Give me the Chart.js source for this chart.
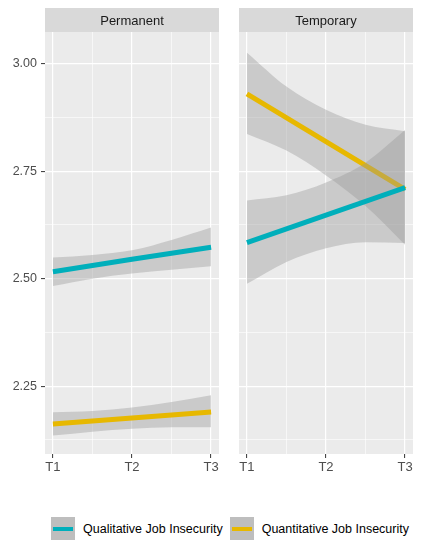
<!DOCTYPE html>
<html>
<head>
<meta charset="utf-8">
<script src="https://cdn.jsdelivr.net/npm/chart.js@4/dist/chart.umd.min.js"></script>
<style>
   body { margin: 0; background: #fff; font-family: "Liberation Sans", Arial, sans-serif; }
   #wrap { position: relative; width: 424px; height: 550px; }
   .panel { position: absolute; top: 0; height: 480px; }
   #left { left: 0; width: 222px; }
   #right { left: 236px; width: 180px; }
   #legend { position: absolute; left: 51px; top: 517px; display: flex; align-items: center; height: 23px; }
   .item { display: flex; align-items: center; margin-right: 7px; }
   .key { width: 24px; height: 23px; background: #BEBEBE; position: relative; margin-right: 8px; }
   .key span { position: absolute; left: 2px; right: 2px; top: 9.5px; height: 4px; }
   .label { font-size: 12.5px; color: #000; }
</style>
</head>
<body>
<div id="wrap">
   <div class="panel" id="left"><canvas id="permanent"></canvas></div>
   <div class="panel" id="right"><canvas id="temporary"></canvas></div>
   <div id="legend"></div>
</div>

<script>
// data

const timeLabels = ['T1', 'T2', 'T3'];
const lineX = [1, 2, 3];
const bandX = [1, 1.5, 2, 2.5, 3];
const xMinorTicks = [1.5, 2.5];
const yMajorTicks = [2.25, 2.5, 2.75, 3.0];
const yMinorTicks = [2.125, 2.375, 2.625, 2.875];

const seriesNames = ['Qualitative Job Insecurity', 'Quantitative Job Insecurity'];
const seriesColors = ['#00AFBB', '#E7B800'];

// Permanent
const permQualLine = [2.516, 2.545, 2.573];
const permQualUpper = [2.549, 2.555, 2.566, 2.590, 2.619];
const permQualLower = [2.483, 2.500, 2.512, 2.521, 2.529];
const permQuantLine = [2.162, 2.176, 2.190];
const permQuantUpper = [2.189, 2.192, 2.200, 2.213, 2.229];
const permQuantLower = [2.135, 2.144, 2.151, 2.154, 2.154];

// Temporary
const tempQualLine = [2.584, 2.648, 2.712];
const tempQualUpper = [2.682, 2.694, 2.724, 2.770, 2.846];
const tempQualLower = [2.488, 2.539, 2.571, 2.585, 2.583];
const tempQuantLine = [2.930, 2.819, 2.708];
const tempQuantUpper = [3.026, 2.947, 2.893, 2.858, 2.843];
const tempQuantLower = [2.837, 2.798, 2.740, 2.669, 2.579];


Chart.defaults.font.family = '"Liberation Sans", Arial, sans-serif';
Chart.defaults.font.size = 12.5;

const ribbonFill = 'rgba(153,153,153,0.4)';

function pts(xs, ys) {
   return xs.map((x, i) => ({ x: x, y: ys[i] }));
}

// panel background + facet strip
const stripPlugin = {
   id: 'strip',
   beforeDraw(chart, args, opts) {
      const ctx = chart.ctx;
      const a = chart.chartArea;
      ctx.save();
      ctx.fillStyle = '#EBEBEB';
      ctx.fillRect(a.left, a.top, a.right - a.left, a.bottom - a.top);
      ctx.fillStyle = '#D9D9D9';
      ctx.fillRect(a.left, 8, a.right - a.left, a.top - 8);
      ctx.fillStyle = '#1A1A1A';
      ctx.font = '13px "Liberation Sans", Arial, sans-serif';
      ctx.textAlign = 'center';
      ctx.textBaseline = 'middle';
      ctx.fillText(opts.text, (a.left + a.right) / 2, (8 + a.top) / 2 + 1);
      ctx.restore();
   }
};

function band(lower, upper, order) {
   return [
      {
         data: pts(bandX, lower),
         borderWidth: 0,
         pointRadius: 0,
         fill: false,
         cubicInterpolationMode: 'monotone',
         order: order + 1,
      },
      {
         data: pts(bandX, upper),
         borderWidth: 0,
         pointRadius: 0,
         backgroundColor: ribbonFill,
         fill: '-1',
         cubicInterpolationMode: 'monotone',
         order: order,
      },
   ];
}

function trend(values, color, order) {
   return {
      label: '',
      data: pts(lineX, values),
      borderColor: color,
      borderWidth: 5,
      borderCapStyle: 'butt',
      pointRadius: 0,
      fill: false,
      order: order,
   };
}

function makePanel(id, title, qual, quant, showY) {
   const isMajorX = (v) => Number.isInteger(v);
   const isMajorY = (v) => yMajorTicks.includes(v);

   return new Chart(document.getElementById(id), {
      type: 'line',
      data: {
         datasets: [
            ...band(quant.lower, quant.upper, 9),
            trend(quant.line, seriesColors[1], 8),
            ...band(qual.lower, qual.upper, 6),
            trend(qual.line, seriesColors[0], 5),
         ],
      },
      options: {
         responsive: true,
         maintainAspectRatio: false,
         animation: false,
         layout: {
            padding: { top: 32, left: showY ? 0 : 3, right: 3, bottom: 0 },
         },
         scales: {
            x: {
               type: 'linear',
               min: 0.9,
               max: 3.1,
               afterBuildTicks: (axis) => {
                  axis.ticks = lineX.concat(xMinorTicks).sort().map(v => ({ value: v }));
               },
               afterFit: (axis) => { axis.height = 26; },
               ticks: {
                  autoSkip: false,
                  maxRotation: 0,
                  padding: 2,
                  color: '#4D4D4D',
                  font: { size: 13 },
                  callback: (v) => isMajorX(v) ? timeLabels[v - 1] : '',
               },
               grid: {
                  color: '#FFFFFF',
                  lineWidth: (c) => c.tick && isMajorX(c.tick.value) ? 1.2 : 0.6,
                  tickColor: (c) => c.tick && isMajorX(c.tick.value) ? '#333333' : 'rgba(0,0,0,0)',
                  tickLength: 4,
                  tickWidth: 1,
               },
               border: { display: false },
            },
            y: {
               type: 'linear',
               min: 2.092,
               max: 3.074,
               afterBuildTicks: (axis) => {
                  axis.ticks = yMajorTicks.concat(yMinorTicks).sort().map(v => ({ value: v }));
               },
               afterFit: (axis) => { axis.width = showY ? 45 : 0; },
               ticks: {
                  display: showY,
                  autoSkip: false,
                  padding: 4,
                  color: '#4D4D4D',
                  font: { size: 12.5 },
                  callback: (v) => isMajorY(v) ? v.toFixed(2) : '',
               },
               grid: {
                  color: '#FFFFFF',
                  lineWidth: (c) => c.tick && isMajorY(c.tick.value) ? 1.2 : 0.6,
                  drawTicks: showY,
                  tickColor: (c) => c.tick && isMajorY(c.tick.value) ? '#333333' : 'rgba(0,0,0,0)',
                  tickLength: 4,
                  tickWidth: 1,
               },
               border: { display: false },
            },
         },
         plugins: {
            legend: false,
            tooltip: { enabled: false },
            strip: { text: title },
         },
      },
      plugins: [stripPlugin],
   });
}

makePanel('permanent', 'Permanent',
   { line: permQualLine, upper: permQualUpper, lower: permQualLower },
   { line: permQuantLine, upper: permQuantUpper, lower: permQuantLower },
   true);

makePanel('temporary', 'Temporary',
   { line: tempQualLine, upper: tempQualUpper, lower: tempQualLower },
   { line: tempQuantLine, upper: tempQuantUpper, lower: tempQuantLower },
   false);


// legend (ggplot style keys)
const legendBox = document.getElementById('legend');
seriesNames.forEach((name, i) => {
   const item = document.createElement('div');
   item.className = 'item';
   item.innerHTML = '<div class="key"><span style="background:' + seriesColors[i] + '"></span></div>' +
      '<div class="label">' + name + '</div>';
   legendBox.appendChild(item);
});
</script>
</body>
</html>
